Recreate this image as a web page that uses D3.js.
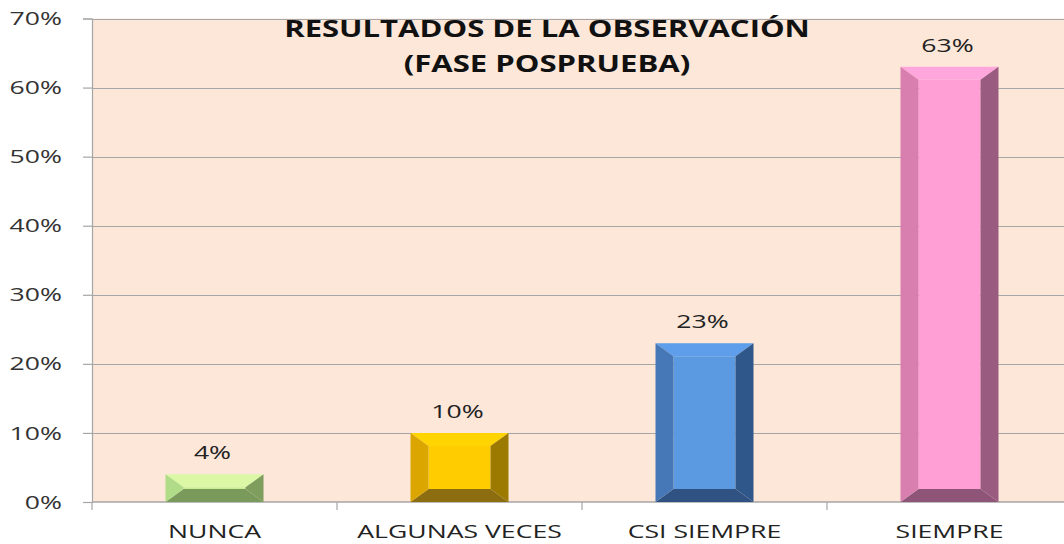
<!DOCTYPE html>
<html>
<head>
<meta charset="utf-8">
<script src="https://cdn.jsdelivr.net/npm/d3@7"></script>
<style>
  body { margin: 0; background: #fff; }
  text { font-family: "Open Sans", "DejaVu Sans", sans-serif; }
</style>
</head>
<body>
<div id="chart"></div>
<script>
// data
var categories = ["NUNCA", "ALGUNAS VECES", "CSI SIEMPRE", "SIEMPRE"];
var values = [0.04, 0.10, 0.23, 0.63];
var valueLabels = ["4%", "10%", "23%", "63%"];
var yTicks = [0, 0.1, 0.2, 0.3, 0.4, 0.5, 0.6, 0.7];
var titleLines = ["RESULTADOS DE LA OBSERVACIÓN", "(FASE POSPRUEBA)"];

// face, top, left, right, bottom shades per bar
var palette = [
  { face: "#c8ee90", top: "#daf8a6", left: "#b0dc88", right: "#7f9e5e", bottom: "#7a9a5c" },
  { face: "#ffcc00", top: "#ffd400", left: "#dca600", right: "#9c7a00", bottom: "#8c6e10" },
  { face: "#5b9ae0", top: "#5e9eea", left: "#4678b8", right: "#30578a", bottom: "#2f5282" },
  { face: "#ff9fd6", top: "#ffa6dc", left: "#d87fb0", right: "#9a5b80", bottom: "#8e5578" }
];

var width = 1064, height = 544;
var margin = { top: 18.5, left: 92, bottom: 42 };
var plotW = 245 * 4;
var innerHeight = height - margin.top - margin.bottom;
var sx = 1.4; // the original text is drawn horizontally stretched

var svg = d3.select("#chart")
  .append("svg")
  .attr("width", width)
  .attr("height", height);

// place a text at (px,py) stretched horizontally
function stretched(sel, px, py, k) {
  sel.attr("x", 0).attr("y", 0)
    .attr("transform", function (d, i) {
      var a = typeof px === "function" ? px(d, i) : px;
      var b = typeof py === "function" ? py(d, i) : py;
      return "translate(" + a + "," + b + ") scale(" + (k || sx) + ",1)";
    });
  return sel;
}

var x = d3.scaleBand()
  .domain(categories)
  .range([margin.left, margin.left + plotW])
  .paddingInner(0.6)
  .paddingOuter(0.3);

var y = d3.scaleLinear()
  .domain([0, 0.7])
  .range([margin.top + innerHeight, margin.top]);

// plot background
svg.append("rect")
  .attr("x", margin.left)
  .attr("y", y(0.7))
  .attr("width", plotW)
  .attr("height", y(0) - y(0.7))
  .attr("fill", "#fce7d9");

// gridlines
svg.append("g")
  .selectAll("line")
  .data(yTicks.slice(1))
  .join("line")
  .attr("x1", margin.left)
  .attr("x2", margin.left + plotW)
  .attr("y1", function (d) { return Math.round(y(d)) + 0.5; })
  .attr("y2", function (d) { return Math.round(y(d)) + 0.5; })
  .attr("stroke", "#a6a6a6")
  .attr("stroke-width", 1.2);

// y axis
var yAxis = svg.append("g")
  .attr("transform", "translate(" + margin.left + ",0)")
  .call(d3.axisLeft(y).tickValues(yTicks).tickFormat(d3.format(".0%")).tickSize(9));
yAxis.select(".domain").attr("stroke", "#a6a6a6").attr("stroke-width", 1.2);
yAxis.selectAll(".tick line").attr("stroke", "#a6a6a6").attr("stroke-width", 1.2);
stretched(yAxis.selectAll(".tick text"), -30, 0)
  .attr("font-size", 19)
  .attr("fill", "#333")
  .attr("font-family", "'Open Sans', sans-serif");

// x axis
var step = x.step();
var xAxisG = svg.append("g");
xAxisG.append("line")
  .attr("x1", margin.left).attr("x2", margin.left + plotW)
  .attr("y1", y(0)).attr("y2", y(0))
  .attr("stroke", "#a6a6a6").attr("stroke-width", 1.5);
xAxisG.selectAll(".sep")
  .data(d3.range(categories.length + 1))
  .join("line")
  .attr("class", "sep")
  .attr("x1", function (i) { return margin.left + i * step; })
  .attr("x2", function (i) { return margin.left + i * step; })
  .attr("y1", y(0)).attr("y2", y(0) + 8)
  .attr("stroke", "#a6a6a6").attr("stroke-width", 1.2);
stretched(xAxisG.selectAll(".cat")
  .data(categories)
  .join("text")
  .attr("class", "cat"),
  function (d) { return x(d) + x.bandwidth() / 2; }, y(0) + 36)
  .attr("text-anchor", "middle")
  .attr("font-size", 19)
  .attr("fill", "#222")
  .text(function (d) { return d; });

// bevelled bars
var bars = svg.append("g");
categories.forEach(function (c, i) {
  var x0 = x(c), x1 = x(c) + x.bandwidth();
  var yb = y(0), yt = y(values[i]);
  var h = yb - yt;
  var bx = 18, by = Math.min(13, h / 2);
  var col = palette[i];
  var g = bars.append("g");
  var poly = function (pts, fill) {
    g.append("polygon")
      .attr("points", pts.map(function (p) { return p.join(","); }).join(" "))
      .attr("fill", fill);
  };
  poly([[x0 + bx, yt + by], [x1 - bx, yt + by], [x1 - bx, yb - by], [x0 + bx, yb - by]], col.face);
  poly([[x0, yt], [x1, yt], [x1 - bx, yt + by], [x0 + bx, yt + by]], col.top);
  poly([[x0, yb], [x1, yb], [x1 - bx, yb - by], [x0 + bx, yb - by]], col.bottom);
  poly([[x0, yt], [x0 + bx, yt + by], [x0 + bx, yb - by], [x0, yb]], col.left);
  poly([[x1, yt], [x1 - bx, yt + by], [x1 - bx, yb - by], [x1, yb]], col.right);

  stretched(svg.append("text"), (x0 + x1) / 2 - 2, yt - 15)
    .attr("text-anchor", "middle")
    .attr("font-size", 19)
    .attr("fill", "#222")
    .text(valueLabels[i]);
});

// title
stretched(svg.append("g")
  .selectAll("text")
  .data(titleLines)
  .join("text"),
  547, function (d, i) { return 37 + i * 35; }, 1.35)
  .attr("text-anchor", "middle")
  .attr("font-size", 23)
  .attr("font-weight", "bold")
  .attr("fill", "#111")
  .text(function (d) { return d; });
</script>
</body>
</html>
